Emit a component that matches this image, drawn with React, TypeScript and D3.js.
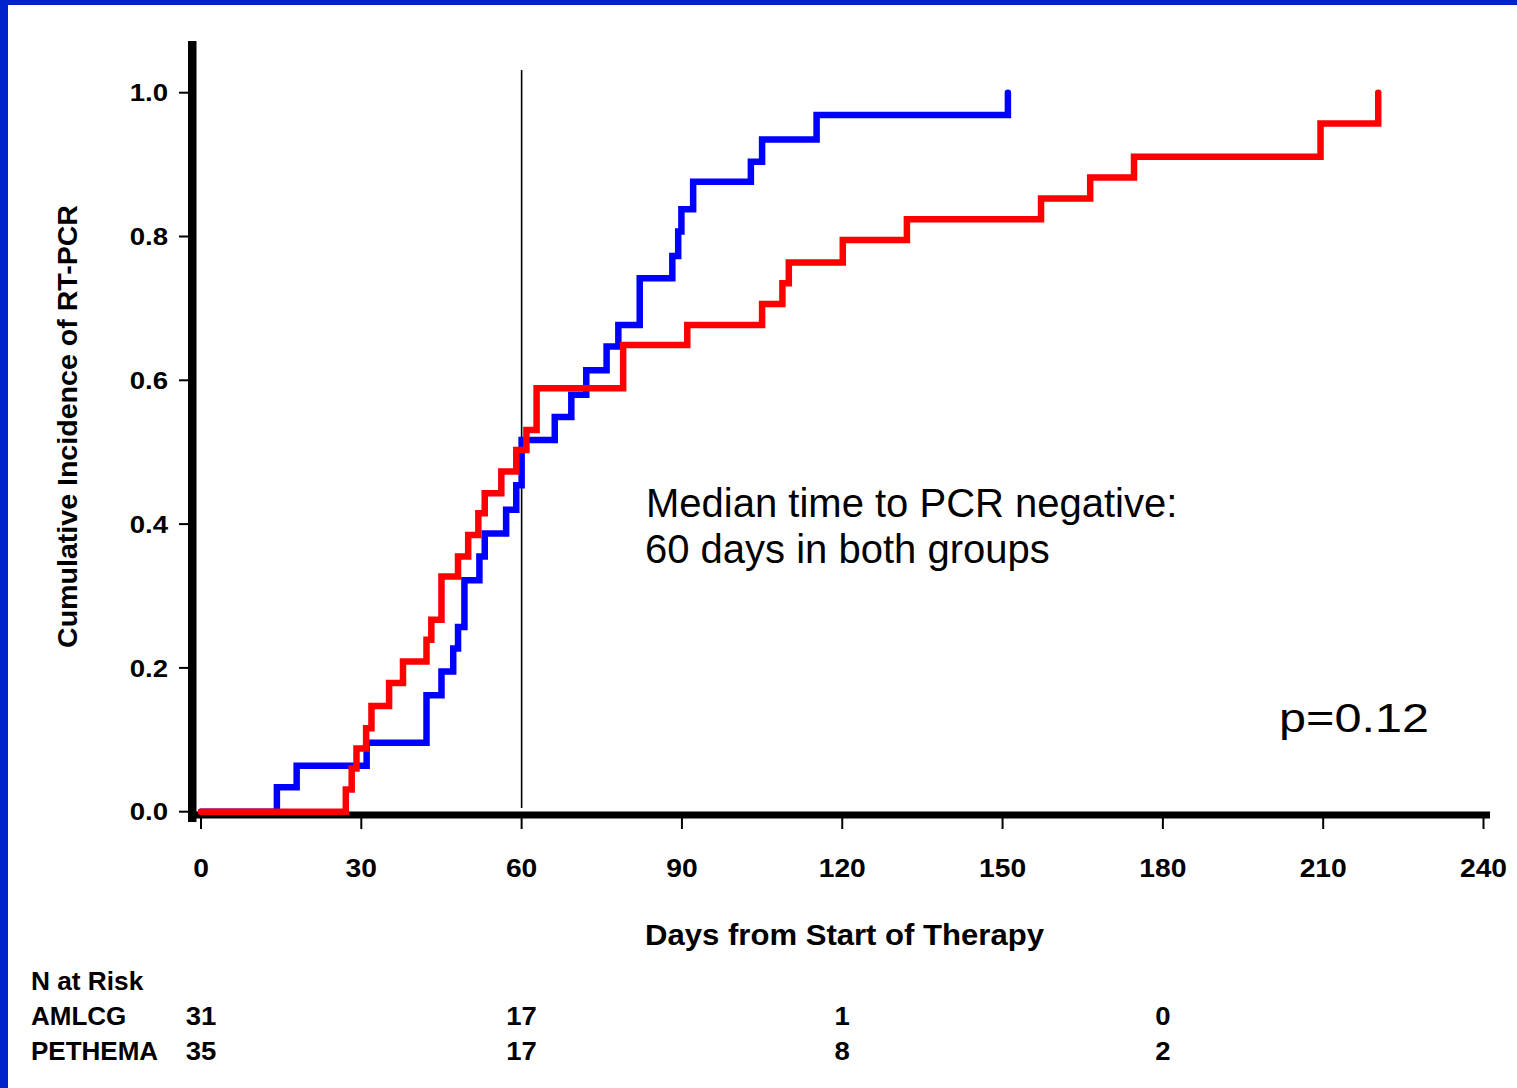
import React from "react";
import * as d3 from "d3";

const amlcgDays = [0, 14.2, 17.9, 31.0, 42.2, 45.0, 47.2, 48.1, 49.3, 52.1, 53.1, 57.1, 59.0, 60.0, 66.2, 69.3, 72.1, 75.9, 78.1, 82.1, 88.2, 89.3, 89.9, 92.1, 102.9, 105.0, 115.2, 151.0];
const amlcgCI = [0, 0.034, 0.064, 0.096, 0.162, 0.195, 0.227, 0.257, 0.322, 0.355, 0.387, 0.420, 0.454, 0.517, 0.549, 0.580, 0.614, 0.647, 0.677, 0.742, 0.773, 0.807, 0.838, 0.876, 0.904, 0.935, 0.969, 1.0];

const pethemaDays = [0, 27.1, 28.2, 29.1, 30.9, 31.9, 35.2, 37.8, 42.2, 43.1, 45.0, 48.1, 50.0, 51.9, 53.1, 56.2, 59.0, 60.9, 62.8, 79.0, 91.0, 105.0, 108.8, 110.0, 120.1, 132.1, 157.2, 166.4, 174.6, 209.5, 220.3];
const pethemaCI = [0, 0.031, 0.060, 0.088, 0.116, 0.147, 0.179, 0.209, 0.239, 0.267, 0.327, 0.355, 0.385, 0.415, 0.443, 0.473, 0.503, 0.531, 0.589, 0.649, 0.677, 0.706, 0.735, 0.764, 0.795, 0.824, 0.853, 0.882, 0.911, 0.957, 1.0];

const xTicks = [0, 30, 60, 90, 120, 150, 180, 210, 240];
const yTicks = [0, 0.2, 0.4, 0.6, 0.8, 1.0];

const riskDays = [0, 60, 120, 180];
const amlcgRisk = [31, 17, 1, 0];
const pethemaRisk = [35, 17, 8, 2];
const riskGroups = ["AMLCG", "PETHEMA"];

const medianDay = 60;

const W = 1517;
const H = 1088;
const FONT = "'Liberation Sans', Arial, Helvetica, sans-serif";

export default function App() {
  const x = d3.scaleLinear().domain([0, 240]).range([201, 1483.5]);
  const y = d3.scaleLinear().domain([0, 1]).range([811.7, 92.7]);

  const line = d3
    .line<[number, number]>()
    .x((d) => x(d[0]))
    .y((d) => y(d[1]))
    .curve(d3.curveStepAfter);

  const blue = line(amlcgDays.map((d, i) => [d, amlcgCI[i]] as [number, number])) || "";
  const red = line(pethemaDays.map((d, i) => [d, pethemaCI[i]] as [number, number])) || "";

  const bold = { fontFamily: FONT, fontWeight: 700 as const, fill: "#000" };

  return (
    <>
      <style>{`body{margin:0;} #root{line-height:0;}`}</style>
      <svg width={W} height={H} viewBox={`0 0 ${W} ${H}`} style={{ display: "block" }}>
        <rect x={0} y={0} width={W} height={H} fill="#ffffff" />
        <rect x={0} y={0} width={W} height={5} fill="#0022cc" />
        <rect x={0} y={0} width={8} height={H} fill="#0022cc" />

        {/* median line */}
        <line x1={x(medianDay)} x2={x(medianDay)} y1={70} y2={808} stroke="#000" strokeWidth={1.6} />

        {/* y ticks */}
        {yTicks.map((t) => (
          <g key={"yt" + t}>
            <line x1={179} x2={189} y1={y(t)} y2={y(t)} stroke="#000" strokeWidth={2} />
            <text
              transform={`translate(168,${y(t) + 8.7}) scale(1.15,1)`}
              textAnchor="end"
              fontSize={24}
              {...bold}
            >
              {t.toFixed(1)}
            </text>
          </g>
        ))}

        {/* x ticks */}
        {xTicks.map((t) => (
          <g key={"xt" + t}>
            <line x1={x(t)} x2={x(t)} y1={817} y2={829} stroke="#000" strokeWidth={2} />
            <text
              transform={`translate(${x(t)},877) scale(1.13,1)`}
              textAnchor="middle"
              fontSize={25}
              {...bold}
            >
              {t}
            </text>
          </g>
        ))}

        {/* axes */}
        <rect x={188} y={41} width={8.5} height={781} fill="#000" />
        <rect x={188} y={811.5} width={1302} height={7} fill="#000" />

        {/* curves */}
        <path d={blue} fill="none" stroke="#0000ff" strokeWidth={6.5} strokeLinecap="round" strokeLinejoin="miter" />
        <path d={red} fill="none" stroke="#ff0000" strokeWidth={6.5} strokeLinecap="round" strokeLinejoin="miter" />

        {/* axis titles */}
        <text
          transform={`translate(77,426.5) rotate(-90)`}
          textAnchor="middle"
          fontSize={28}
          textLength={443}
          lengthAdjust="spacingAndGlyphs"
          {...bold}
        >
          Cumulative Incidence of RT-PCR
        </text>
        <text x={645} y={945} fontSize={30} textLength={399} lengthAdjust="spacingAndGlyphs" {...bold}>
          Days from Start of Therapy
        </text>

        {/* annotations */}
        <text x={646} y={516.7} fontSize={40} fontFamily={FONT} fill="#000">
          Median time to PCR negative:
        </text>
        <text x={645} y={563.3} fontSize={40} fontFamily={FONT} fill="#000">
          60 days in both groups
        </text>
        <text
          x={1279}
          y={731.7}
          fontSize={40}
          fontFamily={FONT}
          fill="#000"
          textLength={150}
          lengthAdjust="spacingAndGlyphs"
        >
          p=0.12
        </text>

        {/* N at risk table */}
        <text transform="translate(31,990) scale(1.05,1)" fontSize={25} {...bold}>
          N at Risk
        </text>
        {riskGroups.map((g, gi) => {
          const by = 1025 + gi * 35;
          const vals = gi === 0 ? amlcgRisk : pethemaRisk;
          return (
            <g key={g}>
              <text transform={`translate(31,${by}) scale(1.04,1)`} fontSize={25} {...bold}>
                {g}
              </text>
              {riskDays.map((dd, i) => (
                <text
                  key={g + dd}
                  transform={`translate(${x(dd)},${by}) scale(1.1,1)`}
                  textAnchor="middle"
                  fontSize={25}
                  {...bold}
                >
                  {vals[i]}
                </text>
              ))}
            </g>
          );
        })}
      </svg>
    </>
  );
}
